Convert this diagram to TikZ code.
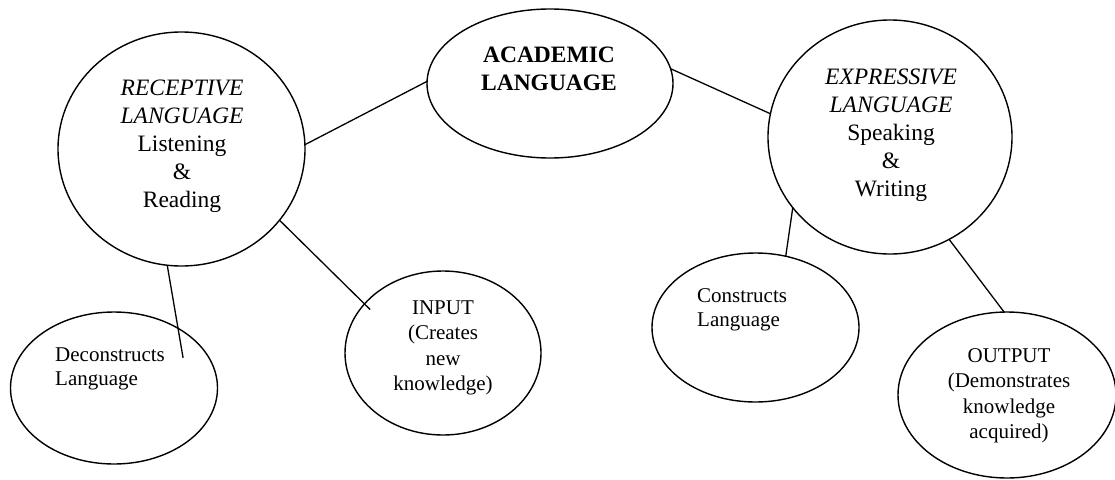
\documentclass[tikz,border=0pt]{standalone}
\usepackage{fontspec}
\setmainfont{Liberation Serif}
\usetikzlibrary{shapes.geometric}
\begin{document}
\begin{tikzpicture}[x=1pt,y=-1pt,
  bubble/.style={draw, ellipse, line width=1.4pt, inner sep=0pt, outer sep=0pt},
  link/.style={line width=1.3pt},
  bigtext/.style={align=center, inner sep=0pt, font=\fontsize{23.5}{28}\selectfont},
  smalltext/.style={align=center, inner sep=0pt, font=\fontsize{21}{25.5}\selectfont},
  sidetext/.style={align=left, anchor=west, inner sep=0pt, font=\fontsize{21}{23.5}\selectfont}]
\useasboundingbox (0,0) rectangle (1115,479);

% bubbles
\node[bubble, minimum width=247pt, minimum height=234pt] (rec)  at (181.5,149) {};
\node[bubble, minimum width=246pt, minimum height=149pt] (acad) at (550,83.5) {};
\node[bubble, minimum width=244pt, minimum height=234pt] (exp)  at (890,137) {};
\node[bubble, minimum width=207pt, minimum height=152pt] (dec)  at (114,388) {};
\node[bubble, minimum width=196pt, minimum height=164pt] (inp)  at (443,353) {};
\node[bubble, minimum width=207pt, minimum height=149pt] (con)  at (755.5,327.5) {};
\node[bubble, minimum width=218pt, minimum height=166pt] (out)  at (1007,395) {};

% labels
\node[bigtext] (rec-label) at (182,146)
  {\textit{RECEPTIVE}\\\textit{LANGUAGE}\\Listening\\\&\\Reading};
\node[bigtext, font=\fontsize{23.5}{27.5}\selectfont\bfseries] (acad-label) at (549,69)
  {ACADEMIC\\LANGUAGE};
\node[bigtext] (exp-label) at (891,135)
  {\textit{EXPRESSIVE}\\\textit{LANGUAGE}\\Speaking\\\&\\Writing};
\node[smalltext] (inp-label) at (443,348)
  {INPUT\\(Creates\\new\\knowledge)};
\node[smalltext] (out-label) at (1009,396)
  {OUTPUT\\(Demonstrates\\knowledge\\acquired)};
\node[sidetext] (dec-label) at (55,369) {Deconstructs\\Language};
\node[sidetext] (con-label) at (697,310) {Constructs\\Language};

% connectors
\draw[link] (rec.2) -- (acad.179);
\draw[link] (acad.7) -- (exp.169);
\draw[link, shorten >=-8pt] (rec.-36) -- (inp.148);
\draw[link, shorten >=-30pt] (rec.-97) -- (dec.43);
\draw[link] (exp.-144.5) -- (con.67);
\draw[link] (exp.-60) -- (out.92);
\end{tikzpicture}
\end{document}
